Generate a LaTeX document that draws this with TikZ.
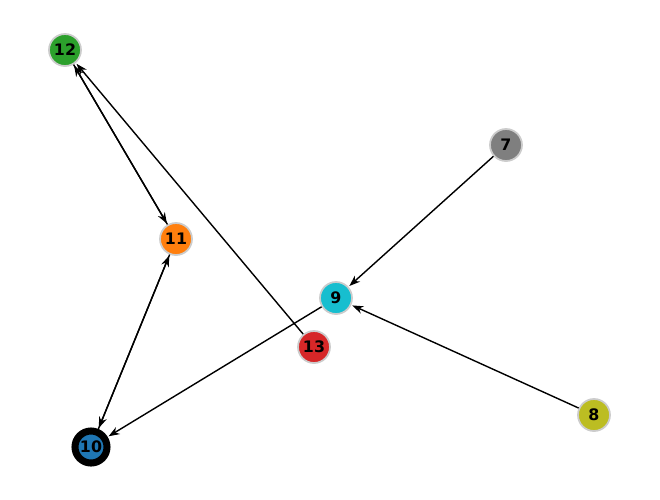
\documentclass[tikz,border=0pt]{standalone}
\usepackage{fontspec}
\setmainfont{DejaVu Sans}
\usetikzlibrary{arrows.meta}
\tikzset{
  vertex/.style={circle,draw=black!20,line width=0.5pt,minimum size=0.32cm,inner sep=0pt,font=\fontsize{4.5}{5}\selectfont\bfseries},
  edge/.style={-{Stealth[length=1.1mm,width=0.8mm]},line width=0.4pt,shorten >=0.3pt}
}
\definecolor{tabgreen}{HTML}{2CA02C}
\definecolor{taborange}{HTML}{FF7F0E}
\definecolor{tabgray}{HTML}{7F7F7F}
\definecolor{tabcyan}{HTML}{17BECF}
\definecolor{tabred}{HTML}{D62728}
\definecolor{tabolive}{HTML}{BCBD22}
\definecolor{tabblue}{HTML}{1F77B4}
\begin{document}
\begin{tikzpicture}[x=0.01cm,y=-0.01cm]
  \useasboundingbox (0,0) rectangle (660,499);

  \node[vertex,fill=tabgreen] (n12) at (65,50) {12};
  \node[vertex,fill=taborange] (n11) at (176,239) {11};
  \node[vertex,fill=tabgray] (n7) at (506,145) {7};
  \node[vertex,fill=tabcyan] (n9) at (336,298) {9};
  \node[vertex,fill=tabred] (n13) at (314,347) {13};
  \node[vertex,fill=tabolive] (n8) at (594,415) {8};
  \node[vertex,fill=tabblue,draw=black,line width=2pt] (n10) at (91,447) {10};

  % edges
  \draw[edge] (n12) -- (n11);
  \draw[edge] (n11) -- (n12);
  \draw[edge] (n11) -- (n10);
  \draw[edge] (n10) -- (n11);
  \draw[edge] (n13) -- (n12);
  \draw[edge] (n7) -- (n9);
  \draw[edge] (n8) -- (n9);
  \draw[edge] (n9) -- (n10);
\end{tikzpicture}
\end{document}
